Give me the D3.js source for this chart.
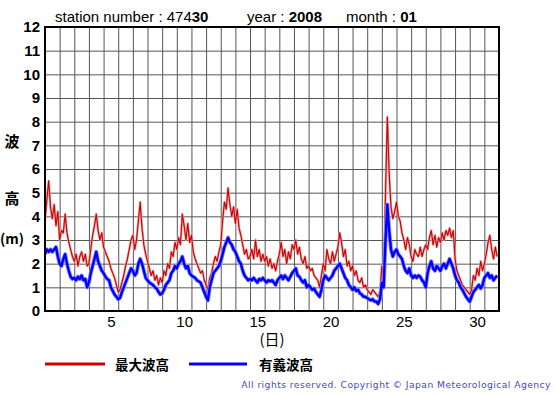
<!DOCTYPE html>
<html><head><meta charset="utf-8">
<script src="https://cdn.jsdelivr.net/npm/d3@7"></script>
<style>body{margin:0;background:#fff}svg{display:block}</style>
</head><body>
<svg id="c" width="555" height="395"></svg>
<script>
// 3-hourly values, 8 per day, January 2008
const maxWave = [
3.8,4.7,5.5,4.4,3.9,4.5,3.6,4.2,
3.0,3.4,3.3,4.1,3.3,2.9,2.6,2.3,
2.1,2.4,1.9,2.3,2.5,2.1,2.4,1.9,
2.0,2.6,3.2,3.6,4.1,3.4,3.0,3.3,
2.7,2.5,2.3,2.1,1.8,1.6,1.4,1.1,
0.8,0.9,1.2,1.5,1.9,2.2,2.6,3.0,
3.2,2.6,3.0,3.8,4.6,3.5,2.8,2.4,
2.1,1.8,1.5,1.7,1.3,1.5,1.1,1.4,
1.2,1.7,1.5,2.0,1.8,2.5,2.3,2.9,
2.6,3.1,2.8,4.1,3.6,3.0,3.7,2.9,
3.2,2.5,2.2,2.0,1.8,1.6,1.7,1.3,
1.1,0.9,1.4,1.6,2.0,2.3,2.1,2.5,
2.8,3.8,4.6,4.3,5.2,4.5,4.0,4.4,
3.7,4.3,3.5,3.2,2.8,2.4,2.6,2.2,
2.3,2.6,2.2,3.0,2.3,2.6,2.1,2.4,
2.1,2.3,1.9,2.2,1.8,2.0,1.7,2.1,
2.4,2.9,2.3,2.6,2.0,2.5,2.2,2.8,
2.6,3.0,2.4,2.7,2.2,2.0,2.3,1.8,
1.9,1.7,1.8,1.5,1.4,1.3,1.0,1.5,
2.0,1.7,2.6,2.2,2.0,2.5,2.1,2.4,
2.7,3.3,2.9,2.3,2.6,1.9,2.1,1.7,
1.9,1.5,1.7,1.3,1.2,1.4,1.0,1.1,
0.9,0.8,0.7,0.9,0.8,0.7,0.6,0.8,
1.9,1.3,5.0,8.2,5.8,4.4,3.9,4.2,
4.6,4.0,3.8,3.3,3.0,2.6,3.1,2.8,
2.3,2.1,2.6,2.4,2.3,2.7,2.3,2.6,
2.8,2.6,3.1,3.4,2.8,3.2,2.7,3.1,
2.9,3.3,3.0,3.4,3.2,3.5,3.1,3.4,
2.2,1.7,1.5,1.3,1.1,1.0,0.9,0.8,
0.7,0.9,1.5,1.3,1.8,1.5,2.1,1.7,
2.0,2.4,2.9,3.2,2.6,2.2,2.7,2.3
];
const sigWave = [
2.4,2.6,2.5,2.6,2.5,2.6,2.7,2.3,
2.0,1.9,2.2,2.4,2.0,1.7,1.45,1.35,
1.4,1.3,1.45,1.35,1.5,1.3,1.35,1.0,
1.2,1.6,1.9,2.2,2.5,2.1,1.9,1.7,
1.6,1.45,1.35,1.3,1.0,0.85,0.7,0.6,
0.5,0.55,0.8,1.0,1.2,1.4,1.6,1.8,
1.7,1.5,1.6,2.0,2.2,2.0,1.7,1.4,
1.3,1.2,1.15,1.1,1.0,0.95,0.8,0.7,
0.75,0.9,1.1,1.2,1.3,1.6,1.7,1.9,
1.8,2.0,2.1,2.3,2.0,1.8,1.9,1.6,
1.5,1.45,1.4,1.3,1.25,1.2,1.0,0.8,
0.6,0.45,1.0,1.3,1.6,1.7,1.8,1.9,
2.1,2.4,2.7,2.9,3.1,2.9,2.8,2.6,
2.5,2.3,2.1,2.0,1.7,1.5,1.4,1.3,
1.35,1.3,1.4,1.3,1.2,1.35,1.3,1.4,
1.3,1.2,1.3,1.25,1.3,1.2,1.1,1.3,
1.4,1.5,1.35,1.5,1.4,1.3,1.45,1.6,
1.7,1.8,1.5,1.45,1.3,1.2,1.3,1.0,
1.1,1.0,0.9,0.95,0.8,0.7,0.6,0.9,
1.3,1.5,1.4,1.3,1.4,1.5,1.7,1.8,
1.9,2.0,1.8,1.6,1.4,1.3,1.1,1.0,
0.9,1.0,0.85,0.9,0.75,0.7,0.6,0.6,
0.55,0.5,0.45,0.5,0.4,0.4,0.3,0.5,
1.2,1.0,3.0,4.5,3.4,2.6,2.3,2.5,
2.6,2.4,2.3,2.2,1.9,1.7,1.6,1.8,
1.5,1.4,1.5,1.4,1.5,1.45,1.3,1.2,
1.0,1.6,1.9,2.1,1.8,1.7,1.9,1.8,
1.7,1.9,2.0,1.8,2.0,2.2,2.0,1.8,
1.5,1.3,1.2,1.0,0.9,0.75,0.6,0.5,
0.4,0.6,0.8,0.9,1.0,1.1,0.95,1.1,
1.4,1.5,1.6,1.4,1.5,1.3,1.4,1.5
];
const samplesPerDay = 8;
const dayCount = 31;
const xTickDays = [5,10,15,20,25,30];
const yTicks = [0,1,2,3,4,5,6,7,8,9,10,11,12];
const seriesNames = ["最大波高","有義波高"];
const seriesColors = ["#cc0000","#0000ff"];

const svg = d3.select("#c");
const L=45,R=499,T=27,B=311;
const x = d3.scaleLinear().domain([0,dayCount]).range([L,R]);
const y = d3.scaleLinear().domain([0,12]).range([B,T]);

// grid
svg.append("g").attr("transform",`translate(0,${B})`)
  .call(d3.axisBottom(x).tickValues(d3.range(0,dayCount+1)).tickSize(-(B-T)).tickFormat(""))
  .call(g=>{g.select(".domain").remove();g.selectAll("line").attr("stroke","#555").attr("stroke-width",1);});
svg.append("g").attr("transform",`translate(${L},0)`)
  .call(d3.axisLeft(y).tickValues(yTicks).tickSize(-(R-L)).tickFormat(""))
  .call(g=>{g.select(".domain").remove();g.selectAll("line").attr("stroke","#555").attr("stroke-width",1);});

// y labels
svg.append("g").attr("transform",`translate(${L},0)`)
  .call(d3.axisLeft(y).tickValues(yTicks).tickSize(0).tickPadding(5).tickFormat(d3.format("d")))
  .call(g=>{g.select(".domain").remove();g.selectAll("text").attr("font-family","Liberation Sans, Arial, sans-serif").attr("font-size",15).attr("font-weight","bold").attr("fill","#000");});
// x labels at day centres
svg.append("g").attr("transform",`translate(0,${B})`)
  .call(d3.axisBottom(x).tickValues(xTickDays.map(d=>d-0.5)).tickSize(0).tickPadding(5).tickFormat(d=>String(Math.round(d+0.5))))
  .call(g=>{g.select(".domain").remove();g.selectAll("text").attr("font-family","Liberation Sans, Arial, sans-serif").attr("font-size",15).attr("fill","#000");});

const t = i=>i/samplesPerDay;
const line = vals => d3.line().x((d,i)=>x(t(i))).y(d=>y(d))(vals);
svg.append("clipPath").attr("id","pc").append("rect").attr("x",L).attr("y",T).attr("width",R-L).attr("height",B-T);
const pg = svg.append("g").attr("clip-path","url(#pc)");
pg.append("path").attr("d",line(maxWave)).attr("fill","none").attr("stroke","#eaa0a0").attr("stroke-width",2.4).attr("stroke-linejoin","round");
pg.append("path").attr("d",line(maxWave)).attr("fill","none").attr("stroke",seriesColors[0]).attr("stroke-width",1.1).attr("stroke-linejoin","round");
pg.append("path").attr("d",line(sigWave)).attr("fill","none").attr("stroke","#8c8cff").attr("stroke-width",4).attr("stroke-linejoin","round");
pg.append("path").attr("d",line(sigWave)).attr("fill","none").attr("stroke",seriesColors[1]).attr("stroke-width",2.4).attr("stroke-linejoin","round");

// frame
svg.append("rect").attr("x",L).attr("y",T).attr("width",R-L).attr("height",B-T).attr("fill","none").attr("stroke","#000").attr("stroke-width",2);

// title
const ff="Liberation Sans, Arial, sans-serif";
const title = [{x:55,a:"station number : 474",b:"30"},{x:247,a:"year : ",b:"2008"},{x:346,a:"month : ",b:"01"}];
title.forEach(o=>{
  const tx=svg.append("text").attr("x",o.x).attr("y",22).attr("font-family",ff).attr("font-size",15).attr("fill","#000");
  tx.append("tspan").text(o.a);
  tx.append("tspan").attr("font-weight","bold").text(o.b);
});

// y axis title
const cjk="'Noto Sans CJK JP', sans-serif";
svg.append("text").attr("x",12).attr("y",140).attr("text-anchor","middle").attr("dominant-baseline","central").attr("font-family",cjk).attr("font-weight","bold").attr("font-size",15).text("波");
svg.append("text").attr("x",12).attr("y",197).attr("text-anchor","middle").attr("dominant-baseline","central").attr("font-family",cjk).attr("font-weight","bold").attr("font-size",15).text("高");
svg.append("text").attr("x",12).attr("y",238).attr("text-anchor","middle").attr("dominant-baseline","central").attr("font-family",cjk).attr("font-weight","bold").attr("font-size",14).text("(m)");
// x axis title
svg.append("text").attr("x",272).attr("y",338).attr("text-anchor","middle").attr("dominant-baseline","central").attr("font-family",cjk).attr("font-size",15).text("(日)");

// legend
const leg=[{x1:45,x2:105,tx:115},{x1:189,x2:247,tx:259}];
leg.forEach((o,i)=>{
  svg.append("line").attr("x1",o.x1).attr("x2",o.x2).attr("y1",364).attr("y2",364).attr("stroke",seriesColors[i]).attr("stroke-width",3);
  svg.append("text").attr("x",o.tx).attr("y",364).attr("dominant-baseline","central").attr("font-family",cjk).attr("font-weight","bold").attr("font-size",13.5).text(seriesNames[i]);
});
svg.append("text").attr("x",551).attr("y",388).attr("text-anchor","end").attr("font-family","DejaVu Sans, sans-serif").attr("font-size",9.2).attr("letter-spacing",0.45).attr("fill","#4646d8").text("All rights reserved. Copyright © Japan Meteorological Agency");
</script>
</body></html>
